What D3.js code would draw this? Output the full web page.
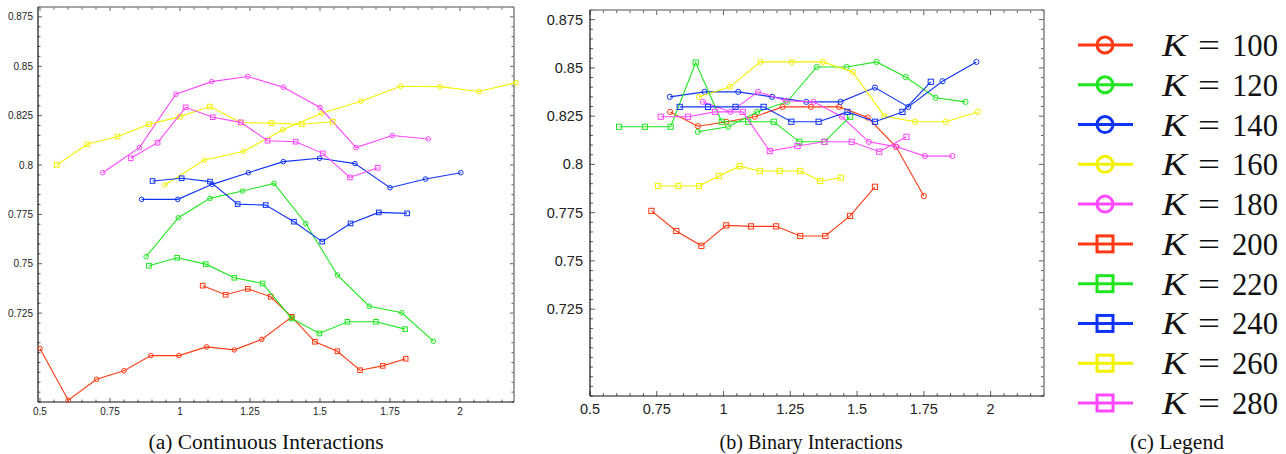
<!DOCTYPE html>
<html>
<head>
<meta charset="UTF-8" />
<script src="https://d3js.org/d3.v7.min.js"></script>
<style>
  body { margin: 0; background: #fff; }
  svg { display: block; }
  .tick-label { font-family: "Liberation Sans", Arial, sans-serif; fill: #222; }
  .caption { font-family: "Liberation Serif", "Times New Roman", Times, "DejaVu Serif", serif; font-size: 20px; fill: #111; }
  .legend-text { font-family: "Liberation Serif", "Times New Roman", Times, "DejaVu Serif", serif; font-size: 31px; fill: #111; }
</style>
</head>
<body>
<svg width="1286" height="454"></svg>
<script>
  // series: K = 100 ... 280 (circles for the first five, squares for the rest)
  const kValues = [100, 120, 140, 160, 180, 200, 220, 240, 260, 280];
  const colors = ["#ff3a14", "#1fe61f", "#1034f5", "#f2f200", "#ff48ff",
                  "#ff3a14", "#1fe61f", "#1034f5", "#f2f200", "#ff48ff"];

  const xTicks = [0.5, 0.75, 1, 1.25, 1.5, 1.75, 2];
  const yTicks = [0.725, 0.75, 0.775, 0.8, 0.825, 0.85, 0.875];

  // (a) Continuous Interactions
  const contX = [
    [0.500, 0.601, 0.702, 0.800, 0.896, 0.996, 1.095, 1.194, 1.292, 1.399],
    [0.879, 0.994, 1.107, 1.223, 1.336, 1.449, 1.562, 1.676, 1.792, 1.905],
    [0.863, 0.992, 1.115, 1.244, 1.369, 1.498, 1.625, 1.750, 1.877, 2.003],
    [0.946, 1.087, 1.226, 1.367, 1.506, 1.646, 1.788, 1.929, 2.068, 2.200],
    [0.724, 0.855, 0.985, 1.113, 1.242, 1.369, 1.500, 1.629, 1.758, 1.887],
    [1.081, 1.163, 1.242, 1.324, 1.399, 1.482, 1.562, 1.643, 1.724, 1.806],
    [0.889, 0.990, 1.092, 1.194, 1.295, 1.399, 1.498, 1.598, 1.700, 1.804],
    [0.902, 1.006, 1.107, 1.206, 1.306, 1.407, 1.508, 1.609, 1.710, 1.811],
    [0.560, 0.669, 0.777, 0.889, 1.000, 1.107, 1.217, 1.327, 1.435, 1.545],
    [0.824, 0.920, 1.020, 1.117, 1.217, 1.313, 1.413, 1.510, 1.607, 1.706]
  ];
  const contY = [
    [0.7071, 0.6809, 0.6915, 0.6958, 0.7035, 0.7035, 0.7079, 0.7064, 0.7117, 0.7231],
    [0.7536, 0.7733, 0.7831, 0.7868, 0.7907, 0.7704, 0.7443, 0.7285, 0.7252, 0.7108],
    [0.7826, 0.7826, 0.7902, 0.7961, 0.8017, 0.8034, 0.8007, 0.7885, 0.7929, 0.7961],
    [0.7899, 0.8025, 0.8068, 0.8178, 0.8262, 0.8323, 0.8399, 0.8397, 0.8372, 0.8417],
    [0.7961, 0.8088, 0.8358, 0.8422, 0.8448, 0.8394, 0.8291, 0.8088, 0.8149, 0.8132],
    [0.7389, 0.7343, 0.7373, 0.7333, 0.7231, 0.7105, 0.7057, 0.6961, 0.6983, 0.7019],
    [0.7490, 0.7530, 0.7498, 0.7429, 0.7400, 0.7223, 0.7147, 0.7206, 0.7206, 0.7169],
    [0.7919, 0.7933, 0.7916, 0.7802, 0.7797, 0.7713, 0.7612, 0.7704, 0.7760, 0.7755],
    [0.8000, 0.8105, 0.8144, 0.8206, 0.8245, 0.8296, 0.8215, 0.8212, 0.8206, 0.8219],
    [0.8034, 0.8113, 0.8292, 0.8242, 0.8216, 0.8123, 0.8118, 0.8059, 0.7937, 0.7986]
  ];

  // (b) Binary Interactions
  const binX = [
    [0.800, 0.904, 1.011, 1.117, 1.221, 1.327, 1.433, 1.540, 1.646, 1.750],
    [0.904, 1.017, 1.126, 1.238, 1.349, 1.461, 1.573, 1.682, 1.794, 1.906],
    [0.799, 0.929, 1.055, 1.182, 1.310, 1.438, 1.567, 1.692, 1.820, 1.947],
    [0.908, 1.024, 1.138, 1.256, 1.372, 1.484, 1.602, 1.717, 1.832, 1.952],
    [0.923, 1.026, 1.129, 1.233, 1.337, 1.443, 1.544, 1.648, 1.754, 1.857],
    [0.730, 0.823, 0.917, 1.010, 1.103, 1.197, 1.287, 1.381, 1.474, 1.567],
    [0.609, 0.706, 0.802, 0.896, 0.993, 1.092, 1.188, 1.284, 1.378, 1.474],
    [0.836, 0.942, 1.045, 1.150, 1.254, 1.356, 1.464, 1.567, 1.670, 1.776],
    [0.755, 0.831, 0.908, 0.983, 1.060, 1.136, 1.210, 1.287, 1.362, 1.439],
    [0.765, 0.867, 0.968, 1.072, 1.173, 1.277, 1.378, 1.480, 1.583, 1.685]
  ];
  const binY = [
    [0.8272, 0.8198, 0.8221, 0.8247, 0.8298, 0.8298, 0.8298, 0.8243, 0.8091, 0.7836],
    [0.8169, 0.8195, 0.8272, 0.8324, 0.8505, 0.8505, 0.8531, 0.8453, 0.8345, 0.8324],
    [0.8350, 0.8376, 0.8376, 0.8350, 0.8324, 0.8324, 0.8398, 0.8298, 0.8431, 0.8531],
    [0.8350, 0.8402, 0.8531, 0.8531, 0.8531, 0.8479, 0.8250, 0.8221, 0.8221, 0.8272],
    [0.8324, 0.8272, 0.8376, 0.8330, 0.8324, 0.8247, 0.8117, 0.8091, 0.8043, 0.8043],
    [0.7759, 0.7655, 0.7578, 0.7684, 0.7679, 0.7679, 0.7629, 0.7629, 0.7733, 0.7884],
    [0.8195, 0.8195, 0.8195, 0.8528, 0.8221, 0.8221, 0.8221, 0.8117, 0.8117, 0.8247],
    [0.8298, 0.8298, 0.8298, 0.8298, 0.8221, 0.8221, 0.8272, 0.8221, 0.8272, 0.8428],
    [0.7888, 0.7888, 0.7888, 0.7940, 0.7991, 0.7966, 0.7966, 0.7966, 0.7914, 0.7931],
    [0.8247, 0.8247, 0.8272, 0.8272, 0.8069, 0.8095, 0.8117, 0.8117, 0.8066, 0.8143]
  ];

  const svg = d3.select("svg");

  function caption(text, cx, width) {
    svg.append("text").attr("class", "caption")
      .attr("x", cx - width / 2).attr("y", 449)
      .attr("textLength", width).attr("lengthAdjust", "spacingAndGlyphs")
      .text(text);
  }

  function drawPanel(cfg) {
    const x = d3.scaleLinear().domain(cfg.xDomain).range(cfg.xRange);
    const y = d3.scaleLinear().domain([0.68, 0.88]).range(cfg.yRange);
    const g = svg.append("g");
    const [x0, x1] = cfg.xRange, [y0, y1] = cfg.yRange; // y0 bottom, y1 top

    // minor + major ticks, inward on all four sides
    const xMinor = d3.range(0.5, cfg.xDomain[1] + 1e-9, 0.05);
    const yMinor = d3.range(0.68, 0.88 + 1e-9, 0.005);
    const tk = g.append("g").attr("stroke", "#333").attr("stroke-width", 0.8);
    xMinor.forEach(v => {
      const major = xTicks.some(t => Math.abs(t - v) < 1e-6);
      const L = major ? cfg.major : cfg.minor;
      tk.append("line").attr("x1", x(v)).attr("x2", x(v)).attr("y1", y0).attr("y2", y0 - L);
      tk.append("line").attr("x1", x(v)).attr("x2", x(v)).attr("y1", y1).attr("y2", y1 + L);
    });
    yMinor.forEach(v => {
      const major = yTicks.some(t => Math.abs(t - v) < 1e-6);
      const L = major ? cfg.major : cfg.minor;
      tk.append("line").attr("y1", y(v)).attr("y2", y(v)).attr("x1", x0).attr("x2", x0 + L);
      tk.append("line").attr("y1", y(v)).attr("y2", y(v)).attr("x1", x1).attr("x2", x1 - L);
    });

    // frame
    g.append("line").attr("x1", x0).attr("x2", x1).attr("y1", y1).attr("y2", y1)
      .attr("stroke", "#8a8a8a").attr("stroke-width", 1.6);
    g.append("line").attr("x1", x1).attr("x2", x1).attr("y1", y1).attr("y2", y0)
      .attr("stroke", "#8a8a8a").attr("stroke-width", 1.6);
    g.append("line").attr("x1", x0).attr("x2", x1).attr("y1", y0).attr("y2", y0)
      .attr("stroke", "#111").attr("stroke-width", 1.2);
    g.append("line").attr("x1", x0).attr("x2", x0).attr("y1", y1).attr("y2", y0)
      .attr("stroke", "#111").attr("stroke-width", 1.2);

    // tick labels
    g.selectAll(".xl").data(xTicks).enter().append("text")
      .attr("class", "tick-label")
      .attr("x", d => x(d)).attr("y", y0 + cfg.xLabelDy)
      .attr("text-anchor", "middle").style("font-size", cfg.fontSize + "px")
      .text(d => d);
    g.selectAll(".yl").data(yTicks).enter().append("text")
      .attr("class", "tick-label")
      .attr("x", x0 - cfg.yLabelDx).attr("y", d => y(d))
      .attr("dy", "0.35em")
      .attr("text-anchor", "end").style("font-size", cfg.fontSize + "px")
      .text(d => d);

    // series
    const line = d3.line().x(d => x(d[0])).y(d => y(d[1]));
    kValues.forEach((k, i) => {
      const pts = cfg.xs[i].map((v, j) => [v, cfg.ys[i][j]]);
      const s = g.append("g");
      s.append("path").attr("d", line(pts)).attr("fill", "none")
        .attr("stroke", colors[i]).attr("stroke-width", 1.1);
      if (i < 5) {
        s.selectAll("circle").data(pts).enter().append("circle")
          .attr("cx", d => x(d[0])).attr("cy", d => y(d[1])).attr("r", cfg.r)
          .attr("fill", "none").attr("stroke", colors[i]).attr("stroke-width", 1);
      } else {
        s.selectAll("rect").data(pts).enter().append("rect")
          .attr("x", d => x(d[0]) - cfg.r).attr("y", d => y(d[1]) - cfg.r)
          .attr("width", cfg.r * 2).attr("height", cfg.r * 2)
          .attr("fill", "none").attr("stroke", colors[i]).attr("stroke-width", 1);
      }
    });

    caption(cfg.caption, cfg.captionX, cfg.captionW);
  }

  drawPanel({
    xs: contX, ys: contY,
    xDomain: [0.4929, 2.1929], xRange: [38, 514], yRange: [402, 7],
    fontSize: 10, xLabelDy: 13, yLabelDx: 5, major: 4, minor: 2.5, r: 2.3,
    caption: "(a) Continuous Interactions", captionX: 266, captionW: 235
  });

  drawPanel({
    xs: binX, ys: binY,
    xDomain: [0.5, 2.2], xRange: [590, 1044], yRange: [396, 10],
    fontSize: 14.5, xLabelDy: 18, yLabelDx: 7, major: 5, minor: 3, r: 2.6,
    caption: "(b) Binary Interactions", captionX: 811, captionW: 183
  });

  // (c) Legend
  const ly = d3.scaleLinear().domain([0, 9]).range([45, 403]);
  const lg = svg.append("g");
  kValues.forEach((k, i) => {
    const cy = ly(i);
    lg.append("line").attr("x1", 1078).attr("x2", 1133).attr("y1", cy).attr("y2", cy)
      .attr("stroke", colors[i]).attr("stroke-width", 3);
    if (i < 5) {
      lg.append("circle").attr("cx", 1105).attr("cy", cy).attr("r", 8)
        .attr("fill", "none").attr("stroke", colors[i]).attr("stroke-width", 3);
    } else {
      lg.append("rect").attr("x", 1097).attr("y", cy - 8).attr("width", 16).attr("height", 16)
        .attr("fill", "none").attr("stroke", colors[i]).attr("stroke-width", 3);
    }
    lg.append("text").attr("class", "legend-text").attr("x", 1162).attr("y", cy + 11)
      .attr("textLength", 25).attr("lengthAdjust", "spacingAndGlyphs")
      .style("font-style", "italic").text("K");
    lg.append("text").attr("class", "legend-text").attr("x", 1198).attr("y", cy + 11)
      .attr("textLength", 22).attr("lengthAdjust", "spacingAndGlyphs")
      .text("=");
    lg.append("text").attr("class", "legend-text").attr("x", 1232).attr("y", cy + 11)
      .attr("textLength", 46).attr("lengthAdjust", "spacingAndGlyphs")
      .text(k);
  });
  caption("(c) Legend", 1177, 94);
</script>
</body>
</html>
